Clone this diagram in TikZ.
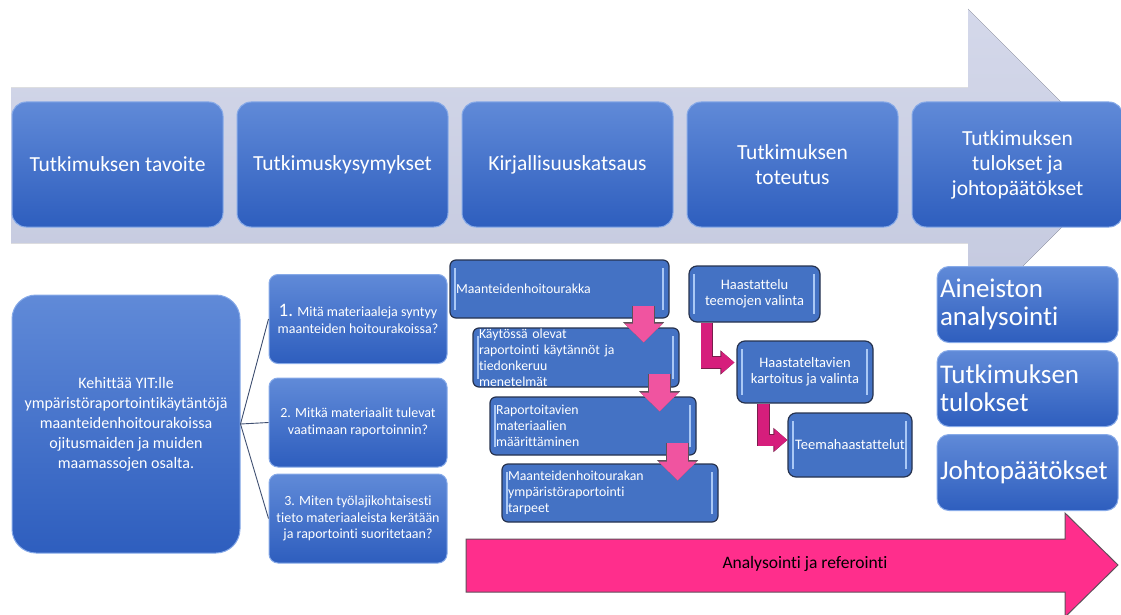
\documentclass[tikz,border=0pt]{standalone}
\usepackage{fontspec}
\setmainfont{Carlito}[Ligatures=NoCommon]
\usetikzlibrary{positioning,arrows.meta}

\definecolor{arrowgray}{RGB}{195,200,222}
\definecolor{arrowlight}{RGB}{212,216,234}
\definecolor{boxtop}{RGB}{96,138,216}
\definecolor{boxbot}{RGB}{46,94,190}
\definecolor{boxflat}{RGB}{68,114,196}
\definecolor{boxrim}{RGB}{135,170,232}
\definecolor{boxdark}{RGB}{38,50,78}
\definecolor{boxshine}{RGB}{170,200,245}
\definecolor{linkgray}{RGB}{62,78,112}
\definecolor{pinkfill}{RGB}{255,46,140}
\definecolor{pinkedge}{RGB}{95,80,90}
\definecolor{pinkmid}{RGB}{240,84,160}
\definecolor{pinkdark}{RGB}{120,30,75}
\definecolor{magfill}{RGB}{214,30,124}

\tikzset{
  stagebox/.style={rounded corners=14pt,top color=boxtop,bottom color=boxbot,draw=boxrim,line width=1pt,
    text=white,align=center,inner sep=2pt,minimum width=211pt,minimum height=125pt,
    font=\fontsize{21.5}{25}\selectfont},
  goalbox/.style={rounded corners=24pt,top color=boxtop,bottom color=boxbot,draw=boxrim,line width=1pt,
    text=white,align=center,inner sep=2pt,minimum width=228pt,minimum height=258pt,
    font=\fontsize{16}{20}\selectfont},
  qbox/.style={rounded corners=9pt,top color=boxtop,bottom color=boxbot,draw=boxrim,line width=1pt,
    text=white,align=center,inner sep=1pt,minimum width=178pt,minimum height=89pt,
    font=\fontsize{14}{16.8}\selectfont},
  shine/.style={path picture={
    \draw[boxshine,line width=1.4pt] ([shift={(5,8)}]path picture bounding box.north west)
      -- ([shift={(5,-8)}]path picture bounding box.south west);
    \draw[boxshine,line width=1.4pt] ([shift={(-6,8)}]path picture bounding box.north east)
      -- ([shift={(-6,-8)}]path picture bounding box.south east);}},
  stepbox/.style={rounded corners=6pt,fill=boxflat,draw=boxdark,line width=1.2pt,shine,
    text=white,align=left,inner xsep=6pt,inner ysep=0pt,text width=#1,
    font=\fontsize{13.8}{16}\selectfont},
  themebox/.style={rounded corners=8pt,fill=boxflat,draw=boxdark,line width=1.2pt,shine,
    text=white,align=center,inner sep=1pt,font=\fontsize{14.5}{16}\selectfont},
  resultbox/.style={rounded corners=12pt,top color=boxtop,bottom color=boxbot,draw=boxrim,line width=1pt,
    text=white,align=left,inner xsep=3pt,inner ysep=1pt,text width=175pt,minimum height=76pt,
    font=\fontsize{27}{28}\selectfont},
  link/.style={draw=linkgray,line width=0.9pt},
  downarrow/.style={draw=pinkmid,line width=21pt,-{Triangle[length=19pt,width=37pt]},
    preaction={draw=pinkedge,line width=23pt,-{Triangle[length=20.5pt,width=40pt]}}},
  elbow/.style={draw=magfill,line width=11pt,-{Triangle[length=13pt,width=21pt]},
    preaction={draw=pinkdark,line width=12.6pt,-{Triangle[length=14pt,width=23.5pt]}}},
}

\begin{document}
\begin{tikzpicture}[x=1pt,y=-1pt]
\useasboundingbox (0,0) rectangle (1121,615);

% process arrow behind the stages
\fill[top color=arrowlight,bottom color=arrowgray] (11,88) -- (968,88) -- (968,9) -- (1124,165)
  -- (968,321) -- (968,243) -- (11,243) -- cycle;

% stages
\node[stagebox] (t1) at (117.5,164.5) {Tutkimuksen tavoite};
\node[stagebox,right=13pt of t1] (t2) {Tutkimuskysymykset};
\node[stagebox,right=13pt of t2] (t3) {Kirjallisuuskatsaus};
\node[stagebox,right=13pt of t3] (t4) {Tutkimuksen\\toteutus};
\node[stagebox,right=13pt of t4] (t5) {Tutkimuksen\\tulokset ja\\johtopäätökset};

% goal and research questions
\node[goalbox] (goal) at (126,424) {Kehittää YIT:lle\\ympäristöraportointikäytäntöjä\\maanteidenhoitourakoissa\\ojitusmaiden ja muiden\\maamassojen osalta.};
\node[qbox] (q1) at (358,319) {{\fontsize{19}{19}\selectfont 1.} Mitä materiaaleja syntyy\\maanteiden hoitourakoissa?};
\node[qbox] (q2) at (358,422.5) {2. Mitkä materiaalit tulevat\\vaatimaan raportoinnin?};
\node[qbox] (q3) at (358,518.5) {3. Miten työlajikohtaisesti\\tieto materiaaleista kerätään\\ja raportointi suoritetaan?};
\draw[link] (goal.east) -- (q1.west);
\draw[link] (goal.east) -- (q2.west);
\draw[link] (goal.east) -- (q3.west);

% literature review chain
\node[stepbox=207pt,minimum height=58pt] (m1) at (559.5,289) {Maanteidenhoitourakka};
\node[stepbox=194pt,minimum height=59pt] (m2) at (576,357.5) {Käytössä olevat\\raportointi käytännöt ja\\tiedonkeruu\\menetelmät};
\node[stepbox=194pt,minimum height=58pt] (m3) at (593,426) {Raportoitavien\\materiaalien\\määrittäminen};
\node[stepbox=204pt,minimum height=58pt] (m4) at (610,493) {Maanteidenhoitourakan\\ympäristöraportointi\\tarpeet};
\draw[downarrow] ([shift={(-26,-13)}]m1.south east) -- ++(0,37);
\draw[downarrow] ([shift={(-20,-14)}]m2.south east) -- ++(0,38);
\draw[downarrow] ([shift={(-19,-13)}]m3.south east) -- ++(0,38);

% interviews
\node[themebox,minimum width=131pt,minimum height=56pt] (h1) at (754.5,294) {Haastattelu\\teemojen valinta};
\node[themebox,minimum width=136pt,minimum height=62pt] (h2) at (805,372) {Haastateltavien\\kartoitus ja valinta};
\node[themebox,minimum width=124pt,minimum height=64pt] (h3) at (850,445) {Teemahaastattelut};
\draw[elbow] ([shift={(18.5,0)}]h1.south west) |- ([shift={(-2,-9.5)}]h2.west);
\draw[elbow] ([shift={(27,0)}]h2.south west) |- ([shift={(0,-5)}]h3.west);

% results
\node[resultbox] (r1) at (1027.5,304.5) {Aineiston\\analysointi};
\node[resultbox,below=7pt of r1] (r2) {Tutkimuksen\\tulokset};
\node[resultbox,below=7pt of r2] (r3) {Johtopäätökset};

% analysis arrow
\draw[fill=pinkfill,draw=pinkedge,line width=1pt] (466,539) -- (1065,539) -- (1065,513) -- (1118,565)
  -- (1065,617) -- (1065,592) -- (466,592) -- cycle;
\node[font=\fontsize{17.5}{20}\selectfont] (anal) at (805,564) {Analysointi ja referointi};
\end{tikzpicture}
\end{document}
